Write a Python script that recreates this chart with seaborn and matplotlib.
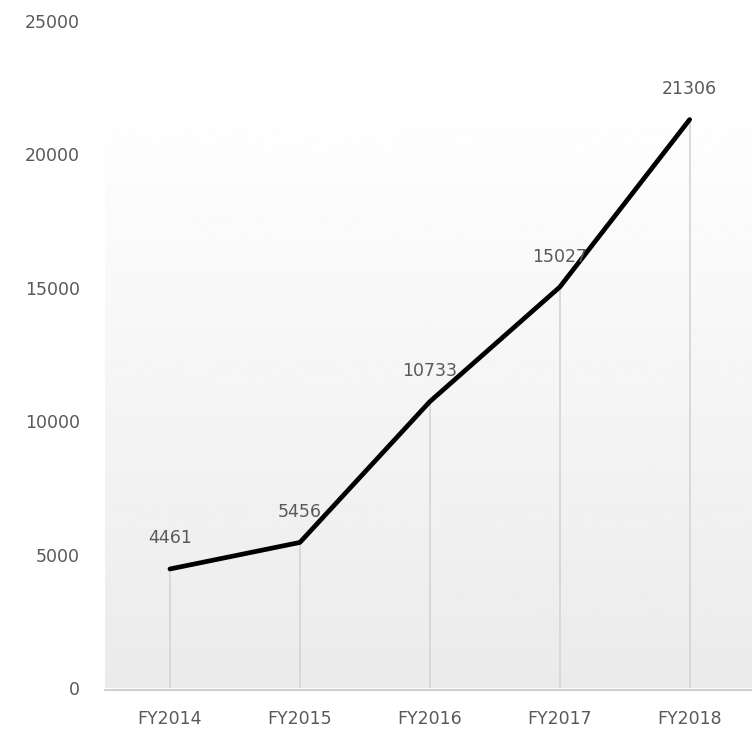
import numpy as np
import pandas as pd
import matplotlib
matplotlib.use("Agg")
import matplotlib.pyplot as plt
import seaborn as sns

years = ["FY2014", "FY2015", "FY2016", "FY2017", "FY2018"]
values = [4461, 5456, 10733, 15027, 21306]
yticks = [0, 5000, 10000, 15000, 20000, 25000]

df = pd.DataFrame({"year": years, "value": values})

sns.set_theme(style="white")
plt.rcParams["font.family"] = ["DejaVu Sans"]

W, H = 752, 730
fig = plt.figure(figsize=(W / 100, H / 100), dpi=100)
ax = fig.add_axes([105 / W, (H - 688) / H, (752 - 105) / W, (688 - 21) / H])

xmin, xmax = -0.5, 4.48
ytop = 22110
# gradient background
grad = np.linspace(0.92, 1.0, 256).reshape(-1, 1)
ax.imshow(grad, cmap="gray", vmin=0, vmax=1, aspect="auto",
          extent=(xmin, xmax, 0, ytop), origin="lower", zorder=0)

# drop lines
ax.vlines(range(len(years)), 0, values, colors="#d4d4d4", linewidth=1.2, zorder=1)
# baseline
ax.plot([xmin, xmax], [-60, -60], color="#d0d0d0", linewidth=1.5, zorder=1, clip_on=False)

sns.lineplot(data=df, x="year", y="value", color="black", linewidth=3.4, ax=ax,
             zorder=3, sort=False)

for i, v in enumerate(values):
    ax.annotate(f"{v}", (i, v), xytext=(0, 22), textcoords="offset points",
                ha="center", va="center", fontsize=12.5, color="#595959", zorder=4)

ax.set_xlim(xmin, xmax)
ax.set_ylim(0, 25000)
ax.set_yticks(yticks)
ax.set_yticklabels([str(t) for t in yticks])
ax.set_xticks(range(len(years)))
ax.set_xticklabels(years)
ax.tick_params(axis="y", length=0, pad=18, labelsize=12.5, labelcolor="#595959")
ax.tick_params(axis="x", length=0, pad=16, labelsize=12.5, labelcolor="#595959")
ax.set_xlabel("")
ax.set_ylabel("")
for s in ax.spines.values():
    s.set_visible(False)
ax.grid(False)

fig.savefig("out.png", dpi=100, facecolor="white")
